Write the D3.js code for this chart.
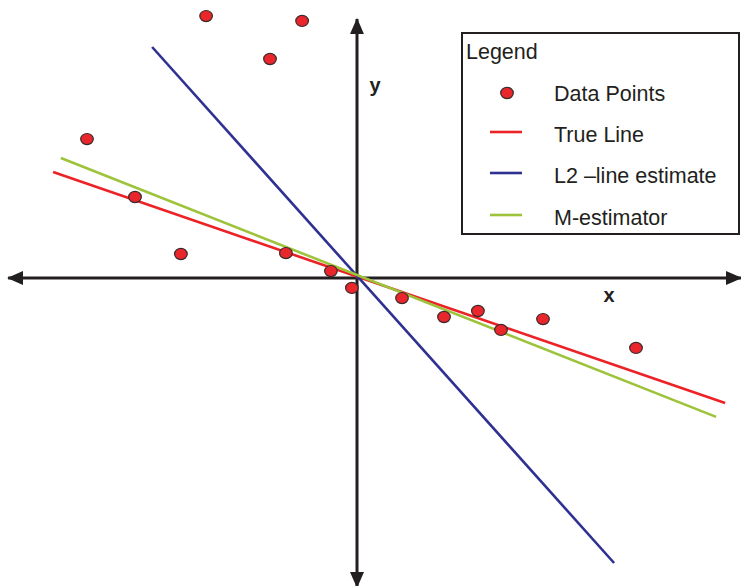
<!DOCTYPE html>
<html>
<head>
<meta charset="utf-8">
<script src="https://cdn.jsdelivr.net/npm/d3@7"></script>
<style>
  html, body { margin: 0; padding: 0; background: #fff; }
  svg { display: block; font-family: "Liberation Sans", Arial, sans-serif; }
</style>
</head>
<body>
<div id="chart"></div>
<script>
// ---- data (data units, origin at axis crossing) ----
const pointX = [-5.03, -1.83, -2.9, -9.0, -7.4, -5.87, -2.37, -0.87, -0.17, 1.5, 2.9, 4.03, 4.8, 6.2, 9.3];
const pointY = [8.73, 8.57, 7.3, 4.63, 2.7, 0.8, 0.83, 0.23, -0.33, -0.67, -1.3, -1.1, -1.73, -1.37, -2.33];

const seriesNames = ["True Line", "L2 \u2013line estimate", "M-estimator"];
const seriesColors = ["#ec2227", "#2e3192", "#9dc33b"];
const lineX0 = [-10.13, -6.83, -9.87];
const lineY0 = [3.53, 7.7, 4.0];
const lineX1 = [12.27, 8.57, 11.97];
const lineY1 = [-4.17, -9.5, -4.63];

const xAxisExtent = [-11.63, 12.8];
const yAxisExtent = [-10.3, 8.63];
const axisLabels = ["x", "y"];
const legendTitle = "Legend";
const pointLabel = "Data Points";

// ---- layout ----
const W = 741, H = 586;
const svg = d3.select("#chart").append("svg").attr("width", W).attr("height", H);

const x = d3.scaleLinear().domain([-10, 10]).range([57, 657]);
const y = d3.scaleLinear().domain([-10, 10]).range([578, -22]);

const defs = svg.append("defs");
defs.append("marker")
  .attr("id", "arrow")
  .attr("viewBox", "0 0 16 16")
  .attr("refX", 15).attr("refY", 8)
  .attr("markerWidth", 16).attr("markerHeight", 16)
  .attr("markerUnits", "userSpaceOnUse")
  .attr("orient", "auto-start-reverse")
  .append("path").attr("d", "M0,1 L16,8 L0,15 Z").attr("fill", "#231f20");

const axisColor = "#231f20";
// x axis
svg.append("line")
  .attr("x1", x(xAxisExtent[0])).attr("x2", x(xAxisExtent[1]))
  .attr("y1", y(0)).attr("y2", y(0))
  .attr("stroke", axisColor).attr("stroke-width", 3)
  .attr("marker-start", "url(#arrow)").attr("marker-end", "url(#arrow)");
// y axis
svg.append("line")
  .attr("x1", x(0)).attr("x2", x(0))
  .attr("y1", y(yAxisExtent[0])).attr("y2", y(yAxisExtent[1]))
  .attr("stroke", axisColor).attr("stroke-width", 3)
  .attr("marker-start", "url(#arrow)").attr("marker-end", "url(#arrow)");

svg.append("text").attr("x", x(8.4)).attr("y", y(-0.8))
  .attr("font-size", 20).attr("font-weight", "bold").attr("fill", axisColor)
  .attr("text-anchor", "middle").text(axisLabels[0]);
svg.append("text").attr("x", x(0.6)).attr("y", y(6.2))
  .attr("font-size", 20).attr("font-weight", "bold").attr("fill", axisColor)
  .attr("text-anchor", "middle").text(axisLabels[1]);

// lines
const lineData = seriesNames.map((n, i) => ({
  name: n, color: seriesColors[i],
  pts: [[lineX0[i], lineY0[i]], [lineX1[i], lineY1[i]]]
}));
const lineGen = d3.line().x(d => x(d[0])).y(d => y(d[1]));
svg.append("g").selectAll("path").data(lineData).join("path")
  .attr("d", d => lineGen(d.pts))
  .attr("stroke", d => d.color).attr("stroke-width", 2.6).attr("fill", "none");

// points
const pts = pointX.map((v, i) => [v, pointY[i]]);
svg.append("g").selectAll("ellipse").data(pts).join("ellipse")
  .attr("cx", d => x(d[0])).attr("cy", d => y(d[1]))
  .attr("rx", 6.3).attr("ry", 5.6)
  .attr("fill", "#e8262b").attr("stroke", "#3a2a2a").attr("stroke-width", 1.2);

// legend
const fs = 21.5;
const lg = svg.append("g");
lg.append("rect").attr("x", 462).attr("y", 33).attr("width", 277).attr("height", 201)
  .attr("fill", "#fff").attr("stroke", axisColor).attr("stroke-width", 2);
lg.append("text").attr("x", 466).attr("y", 59).attr("font-size", fs).attr("fill", "#231f20").text(legendTitle);
lg.append("ellipse").attr("cx", 507).attr("cy", 93).attr("rx", 6.3).attr("ry", 5.6)
  .attr("fill", "#e8262b").attr("stroke", "#3a2a2a").attr("stroke-width", 1.2);
lg.append("text").attr("x", 554).attr("y", 101).attr("font-size", fs).attr("fill", "#231f20").text(pointLabel);
const legY = [132, 173, 215];
lineData.forEach((d, i) => {
  lg.append("line").attr("x1", 490).attr("x2", 522).attr("y1", legY[i]).attr("y2", legY[i])
    .attr("stroke", d.color).attr("stroke-width", 2.6);
  lg.append("text").attr("x", 554).attr("y", legY[i] + 10).attr("font-size", fs)
    .attr("fill", "#231f20").text(d.name);
});
</script>
</body>
</html>
